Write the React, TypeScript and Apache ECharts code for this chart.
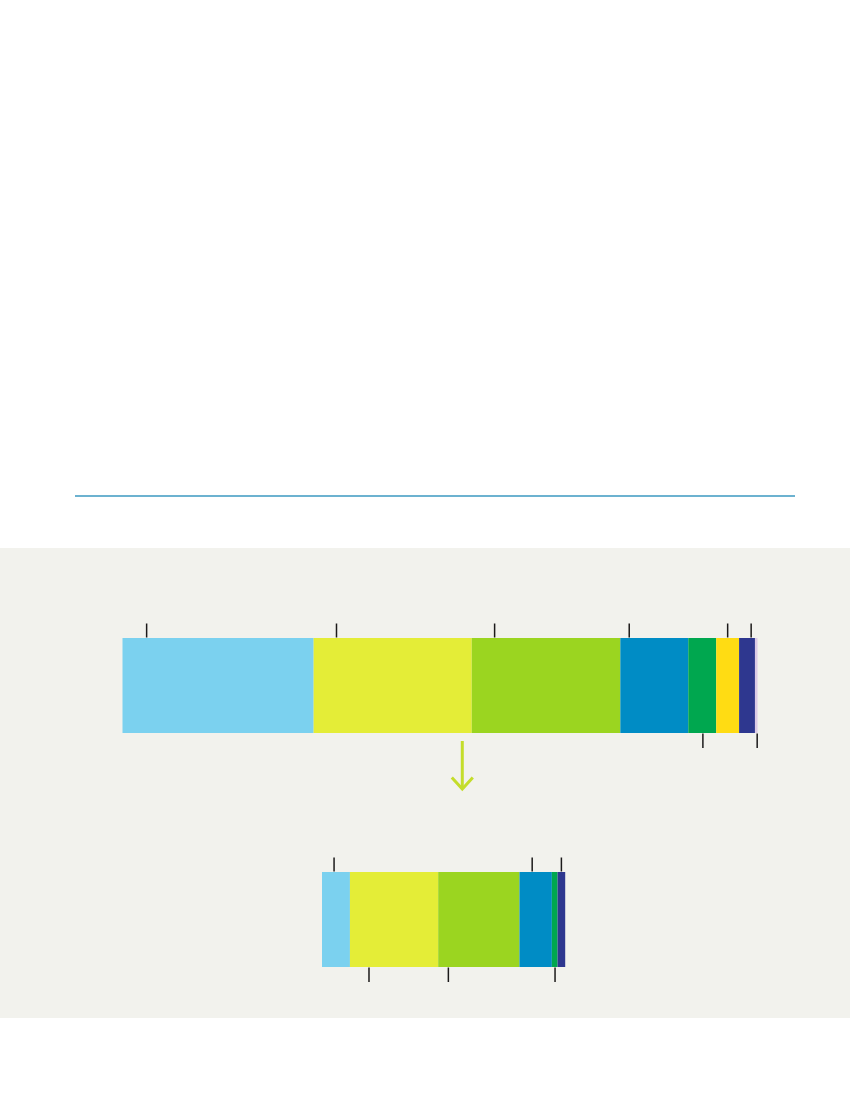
import { useEffect, useRef } from 'react';
import * as echarts from 'echarts';

// Segment colours, left to right, shared by both bars.
const SEGMENT_COLORS = [
  '#7bd1ef',
  '#e4ed37',
  '#9bd520',
  '#008cc5',
  '#00a74f',
  '#ffdc13',
  '#2e378f',
  '#dccbe6',
];

// Widths of the segments (share of the upper bar's total = 100).
const BEFORE_VALUES = [30.1, 24.9, 23.4, 10.7, 4.4, 3.6, 2.5, 0.4];
const AFTER_VALUES = [4.4, 13.9, 12.8, 5.1, 0.9, 0, 1.2, 0];

// Leader ticks (position on the same value scale).
const BEFORE_TICKS_UP = [3.8, 33.7, 58.6, 79.8, 95.3, 99.0];
const BEFORE_TICKS_DOWN = [91.4, 99.95];
const AFTER_TICKS_UP = [1.9, 33.1, 37.7];
const AFTER_TICKS_DOWN = [7.4, 19.9, 36.7];

// Both bars share one scale: 6.35 px per unit.
const BEFORE_MAX = 100;
const AFTER_MAX = 50;

const leaderRender = (params: any, api: any) => {
  const [px, cy] = api.coord([api.value(0), 0]);
  const half = api.size([0, 1])[1] / 2;
  const dir = api.value(2);
  const edge = dir > 0 ? cy - half : cy + half;
  const len = dir > 0 ? 14.5 : 15;
  return {
    type: 'line',
    shape: { x1: px, y1: edge - dir * 0.5, x2: px, y2: edge - dir * len },
    style: { stroke: '#1c1a1a', lineWidth: 1.5 },
  };
};

export default function App() {
  const ref = useRef<HTMLDivElement | null>(null);

  useEffect(() => {
    if (!ref.current) return;
    const chart = echarts.init(ref.current, undefined, { renderer: 'svg' });

    const barSeries = (values: number[], axis: number) =>
      values.map((v, i) => ({
        type: 'bar',
        name: `segment-${i + 1}`,
        stack: `bar-${axis}`,
        xAxisIndex: axis,
        yAxisIndex: axis,
        barWidth: '100%',
        silent: true,
        itemStyle: { color: SEGMENT_COLORS[i] },
        data: [v],
        z: 3,
      }));

    const tickSeries = (up: number[], down: number[], axis: number) => ({
      type: 'custom',
      xAxisIndex: axis,
      yAxisIndex: axis,
      silent: true,
      clip: false,
      encode: { x: 0, y: 1 },
      renderItem: leaderRender,
      data: [...up.map((x) => [x, 0, 1]), ...down.map((x) => [x, 0, -1])],
      z: 4,
    });

    const hiddenValue = (i: number, max: number) => ({
      type: 'value',
      gridIndex: i,
      min: 0,
      max,
      show: false,
    });
    const hiddenCat = (i: number) => ({
      type: 'category',
      gridIndex: i,
      data: ['total'],
      show: false,
    });

    chart.setOption({
      animation: false,
      backgroundColor: '#ffffff',
      grid: [
        { left: 122.5, width: 635, top: 638, height: 95 },
        { left: 322, width: 317.5, top: 872, height: 95 },
      ],
      xAxis: [hiddenValue(0, BEFORE_MAX), hiddenValue(1, AFTER_MAX)],
      yAxis: [hiddenCat(0), hiddenCat(1)],
      graphic: [
        {
          type: 'line',
          z: 1,
          shape: { x1: 75, y1: 496, x2: 795, y2: 496 },
          style: { stroke: '#3b99c1', lineWidth: 1.5 },
        },
        {
          type: 'rect',
          z: 0,
          shape: { x: 0, y: 548, width: 850, height: 470 },
          style: { fill: '#f2f2ed' },
        },
        {
          type: 'line',
          z: 1,
          shape: { x1: 462.3, y1: 741, x2: 462.3, y2: 788 },
          style: { stroke: '#c4dd2b', lineWidth: 3 },
        },
        {
          type: 'polyline',
          z: 1,
          shape: {
            points: [
              [451.8, 777.5],
              [462.3, 789],
              [472.8, 777.5],
            ],
          },
          style: { stroke: '#c4dd2b', lineWidth: 3, fill: 'none' },
        },
      ],
      series: [
        ...barSeries(BEFORE_VALUES, 0),
        ...barSeries(AFTER_VALUES, 1),
        tickSeries(BEFORE_TICKS_UP, BEFORE_TICKS_DOWN, 0),
        tickSeries(AFTER_TICKS_UP, AFTER_TICKS_DOWN, 1),
      ],
    });

    return () => chart.dispose();
  }, []);

  return (
    <div
      ref={ref}
      style={{ position: 'absolute', left: 0, top: 0, width: 850, height: 1100 }}
    />
  );
}
